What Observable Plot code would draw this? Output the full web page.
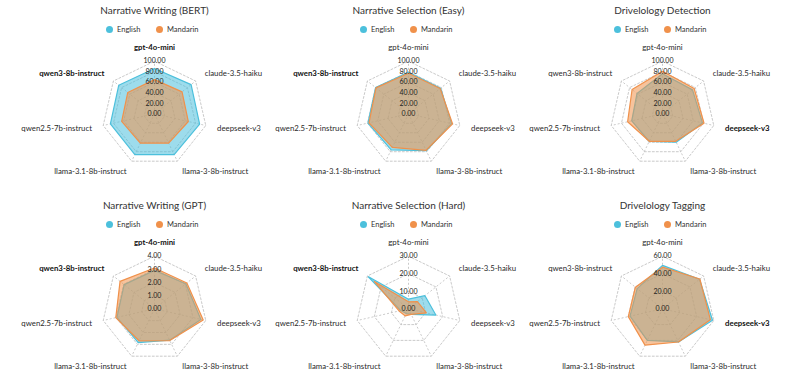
<!DOCTYPE html>
<html>
<head>
<meta charset="utf-8">
<script src="https://cdn.jsdelivr.net/npm/d3@7"></script>
<script src="https://cdn.jsdelivr.net/npm/@observablehq/plot@0.6"></script>
<style>
  html, body { margin: 0; padding: 0; background: #fff; }
  #chart { position: relative; width: 793px; height: 380px; font-family: Lato, "Noto Sans", sans-serif; }
  .panel { position: absolute; }
</style>
</head>
<body>
<div id="chart"></div>
<script>
// ---- data ----
const models = ["gpt-4o-mini", "claude-3.5-haiku", "deepseek-v3", "llama-3-8b-instruct", "llama-3.1-8b-instruct", "qwen2.5-7b-instruct", "qwen3-8b-instruct"];
const series = ["English", "Mandarin"];
const seriesColors = ["#4cc0dc", "#f0914b"];

const titles = ["Narrative Writing (BERT)", "Narrative Selection (Easy)", "Drivelology Detection",
                "Narrative Writing (GPT)", "Narrative Selection (Hard)", "Drivelology Tagging"];

const writingBertEnglish   = [86, 89, 88, 86, 86, 86, 87];
const writingBertMandarin  = [65, 67, 66, 62, 62, 64, 65];
const selectionEasyEnglish = [79, 78, 84, 78, 76, 79, 80];
const selectionEasyMandarin= [77, 77, 86, 77, 71, 77, 79];
const detectionEnglish     = [76, 73, 78, 60, 58, 60, 62];
const detectionMandarin    = [81, 77, 81, 58, 58, 68, 74];
const writingGptEnglish    = [2.92, 3.05, 3.62, 2.65, 2.85, 2.93, 2.95];
const writingGptMandarin   = [3.10, 3.15, 3.80, 2.68, 2.70, 3.02, 3.35];
const selectionHardEnglish = [5.5, 12, 16, 3.5, 3, 4.5, 29.5];
const selectionHardMandarin= [4, 6.5, 10.5, 3.5, 4.5, 5.5, 25];
const taggingEnglish       = [49.5, 54, 58.5, 42, 40, 38, 37];
const taggingMandarin      = [47.5, 54.5, 56, 42, 46, 40, 39.5];

const ticks100 = [0, 20, 40, 60, 80, 100];
const ticks4   = [0, 1, 2, 3, 4];
const ticks30  = [0, 10, 20, 30];
const ticks60  = [0, 20, 40, 60];

const boldLabels = [["gpt-4o-mini", "qwen3-8b-instruct"], ["qwen3-8b-instruct"], ["deepseek-v3"],
                    ["gpt-4o-mini", "qwen3-8b-instruct"], ["qwen3-8b-instruct"], ["deepseek-v3"]];

const panels = [
  {title: titles[0], ticks: ticks100, values: [writingBertEnglish, writingBertMandarin], bold: boldLabels[0]},
  {title: titles[1], ticks: ticks100, values: [selectionEasyEnglish, selectionEasyMandarin], bold: boldLabels[1]},
  {title: titles[2], ticks: ticks100, values: [detectionEnglish, detectionMandarin], bold: boldLabels[2]},
  {title: titles[3], ticks: ticks4, values: [writingGptEnglish, writingGptMandarin], bold: boldLabels[3]},
  {title: titles[4], ticks: ticks30, values: [selectionHardEnglish, selectionHardMandarin], bold: boldLabels[4]},
  {title: titles[5], ticks: ticks60, values: [taggingEnglish, taggingMandarin], bold: boldLabels[5]}
];

// ---- layout ----
const W = 254, H = 185;
const CX = 127, CY = 113.3, R = 52.6;
const colLeft = [27, 281, 535];
const rowTop = [0, 195];

const n = models.length;
const ang = i => 2 * Math.PI * i / n;
const anchorOf = i => {
  const s = Math.sin(ang(i));
  return s > 0.1 ? "start" : s < -0.1 ? "end" : "middle";
};

const root = document.getElementById("chart");

panels.forEach((p, k) => {
  const max = d3.max(p.ticks);
  const rows = [];
  series.forEach((s, si) => {
    p.values[si].forEach((v, i) => rows.push({series: s, model: models[i], i, v}));
  });
  const ringRows = [];
  p.ticks.filter(t => t > 0).forEach(t => models.forEach((m, i) => ringRows.push({t, i})));
  const spokeRows = models.map((m, i) => ({m, i}));
  const labelR = 1.22;

  const marks = [
    Plot.line(ringRows, {
      x: d => (d.t / max) * Math.sin(ang(d.i)),
      y: d => (d.t / max) * Math.cos(ang(d.i)),
      z: "t", curve: "linear-closed",
      stroke: "#bdbdbd", strokeWidth: 0.8, strokeDasharray: "2,2"
    }),
    Plot.link(spokeRows, {
      x1: 0, y1: 0,
      x2: d => Math.sin(ang(d.i)),
      y2: d => Math.cos(ang(d.i)),
      stroke: "#bdbdbd", strokeWidth: 0.8, strokeDasharray: "2,2"
    })
  ];
  series.forEach((s, si) => {
    marks.push(Plot.line(rows.filter(d => d.series === s), {
      x: d => (d.v / max) * Math.sin(ang(d.i)),
      y: d => (d.v / max) * Math.cos(ang(d.i)),
      curve: "linear-closed",
      fill: seriesColors[si], fillOpacity: 0.55,
      stroke: seriesColors[si], strokeWidth: 1.2, strokeLinejoin: "miter"
    }));
  });
  marks.push(Plot.text(p.ticks, {
    x: 0, y: t => t / max,
    text: t => t.toFixed(2),
    fontSize: 7, fill: "#222", textAnchor: "middle"
  }));
  for (const anchor of ["start", "middle", "end"]) {
    for (const bold of [false, true]) {
      const sub = spokeRows.filter(d => anchorOf(d.i) === anchor && p.bold.includes(d.m) === bold);
      if (!sub.length) continue;
      marks.push(Plot.text(sub, {
        x: d => labelR * Math.sin(ang(d.i)),
        y: d => labelR * Math.cos(ang(d.i)),
        text: "m",
        textAnchor: anchor,
        lineAnchor: anchor === "middle" ? "bottom" : "middle",
        fontSize: 7.8, fill: bold ? "#111" : "#2a2a2a",
        fontWeight: bold ? 700 : 400
      }));
    }
  }
  marks.push(Plot.text([p.title], {
    frameAnchor: "top", dy: 10, lineAnchor: "middle",
    text: d => d, fontSize: 10, fill: "#333"
  }));
  series.forEach((s, si) => {
    const off = si === 0 ? -45 : 5;
    marks.push(Plot.dot([s], {frameAnchor: "top", dy: 29, dx: off, r: 3.5, fill: seriesColors[si], stroke: "none"}));
    marks.push(Plot.text([s], {frameAnchor: "top", dy: 29, dx: off + 7.5, text: d => d, textAnchor: "start",
      lineAnchor: "middle", fontSize: 7.5, fill: "#333"}));
  });

  const svg = Plot.plot({
    width: W, height: H, margin: 0,
    x: {domain: [-CX / R, (W - CX) / R], axis: null},
    y: {domain: [-(H - CY) / R, CY / R], axis: null},
    style: {fontFamily: "Lato, 'Noto Sans', sans-serif", background: "transparent", overflow: "visible"},
    marks
  });
  const div = document.createElement("div");
  div.className = "panel";
  div.style.left = colLeft[k % 3] + "px";
  div.style.top = rowTop[Math.floor(k / 3)] + "px";
  div.appendChild(svg);
  root.appendChild(div);
});
</script>
</body>
</html>
